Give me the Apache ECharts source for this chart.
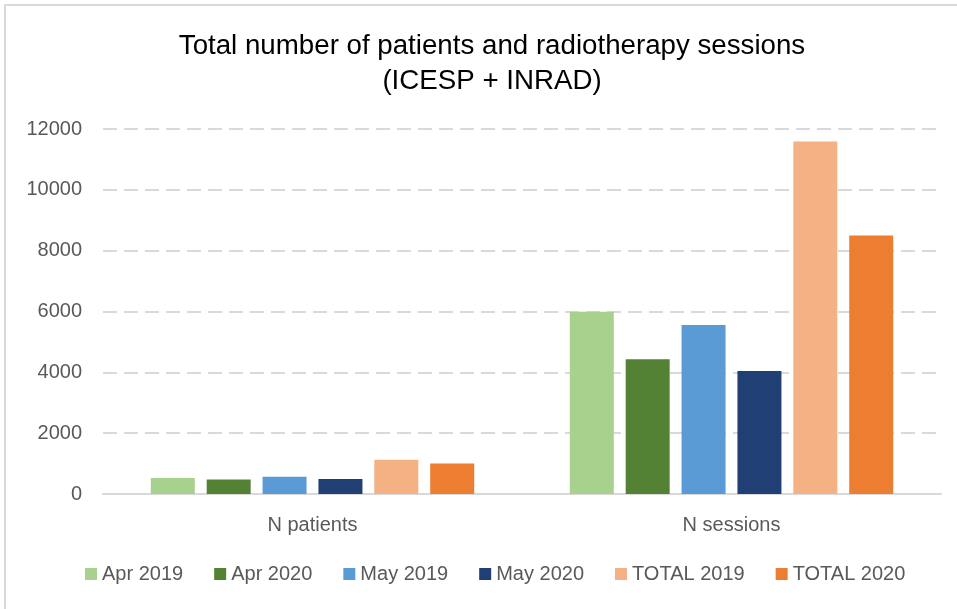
<!DOCTYPE html>
<html>
<head>
<meta charset="utf-8">
<script src="https://cdn.jsdelivr.net/npm/echarts@6/dist/echarts.min.js"></script>
<style>html,body{margin:0;padding:0;background:#fff}#c{width:957px;height:609px}</style>
</head>
<body>
<div id="c"></div>
<script>
const categories = ['N patients', 'N sessions'];
const seriesNames = ['Apr 2019', 'Apr 2020', 'May 2019', 'May 2020', 'TOTAL 2019', 'TOTAL 2020'];
const apr2019 = [525, 5990];
const apr2020 = [479, 4430];
const may2019 = [567, 5560];
const may2020 = [492, 4045];
const total2019 = [1125, 11585];
const total2020 = [1003, 8495];
const yTicks = [0, 2000, 4000, 6000, 8000, 10000, 12000];
const colors = ['#A9D18E', '#548235', '#5B9BD5', '#203F75', '#F4B183', '#ED7D31'];
const values = [apr2019, apr2020, may2019, may2020, total2019, total2020];

const FONT = '"Liberation Sans", Arial, sans-serif';
const chart = echarts.init(document.getElementById('c'), null, {renderer: 'canvas'});
const titleStyle = {fontFamily: FONT, fontSize: 27.7, fontWeight: 'normal', color: '#000'};
chart.setOption({
  animation: false,
  backgroundColor: '#fff',
  color: colors,
  title: [
    {text: 'Total number of patients and radiotherapy sessions', left: 487, textAlign: 'center', top: 27, textStyle: titleStyle},
    {text: '(ICESP + INRAD)', left: 487, textAlign: 'center', top: 62, textStyle: titleStyle}
  ],
  legend: {
    bottom: 20,
    left: 80,
    itemWidth: 12,
    itemHeight: 12,
    itemGap: 31,
    icon: 'rect',
    textStyle: {fontFamily: FONT, fontSize: 20, color: '#595959'},
    data: seriesNames
  },
  grid: {left: 103, right: 16, top: 129, bottom: 115, containLabel: false},
  xAxis: {
    type: 'category',
    data: categories,
    axisLine: {lineStyle: {color: '#d9d9d9', width: 2}},
    axisTick: {show: false},
    axisLabel: {fontFamily: FONT, fontSize: 20, color: '#595959', margin: 21}
  },
  yAxis: {
    type: 'value',
    min: yTicks[0],
    max: yTicks[yTicks.length - 1],
    interval: 2000,
    axisLine: {show: false},
    axisTick: {show: false},
    axisLabel: {fontFamily: FONT, fontSize: 20, color: '#595959', margin: 21, formatter: v => String(v)},
    splitLine: {lineStyle: {color: '#d9d9d9', width: 2, type: [14, 7]}}
  },
  graphic: [{
    type: 'polyline',
    shape: {points: [[5, 620], [5, 5], [960, 5]]},
    style: {stroke: '#d9d9d9', lineWidth: 2, fill: null},
    silent: true
  }],
  series: seriesNames.map((n, i) => ({
    name: n,
    type: 'bar',
    data: values[i],
    barWidth: 44,
    barGap: '27%',
    itemStyle: {color: colors[i]}
  }))
});
</script>
</body>
</html>
